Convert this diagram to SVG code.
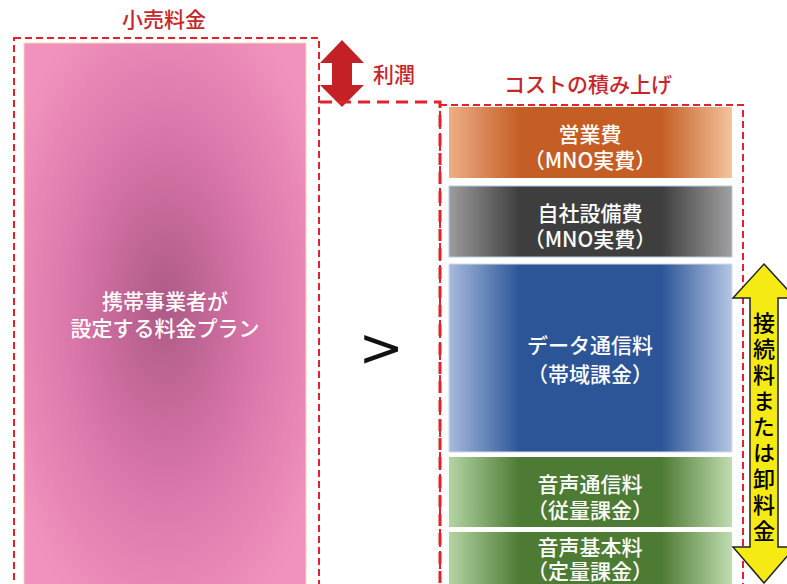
<svg xmlns="http://www.w3.org/2000/svg" width="787" height="584" viewBox="0 0 787 584">
<style>
.lbl{font-family:"Noto Sans CJK JP","Liberation Sans",sans-serif;font-weight:500;fill:#c8262c;font-size:21px;text-anchor:middle}
.wt{font-family:"Noto Sans CJK JP","Liberation Sans",sans-serif;font-weight:500;fill:#ffffff;font-size:21px;text-anchor:middle}
.vt{font-family:"Noto Sans CJK JP","Liberation Sans",sans-serif;font-weight:500;fill:#000;font-size:22px}
.dash{fill:none;stroke:#e0222b;stroke-width:2;stroke-dasharray:7,4}
</style>
<defs>
<radialGradient id="gp" cx="0.5" cy="0.5" r="0.62" fx="0.5" fy="0.48">
<stop offset="0" stop-color="#ad5a86"/>
<stop offset="0.55" stop-color="#dc77ab"/>
<stop offset="1" stop-color="#f192bd"/>
</radialGradient>
<linearGradient id="go" x1="0" x2="1" y1="0" y2="0">
<stop offset="0" stop-color="#eeae86"/><stop offset="0.25" stop-color="#c55e25"/><stop offset="0.75" stop-color="#c55e25"/><stop offset="1" stop-color="#f5c39d"/>
</linearGradient>
<linearGradient id="gg" x1="0" x2="1" y1="0" y2="0">
<stop offset="0" stop-color="#9c9c9c"/><stop offset="0.25" stop-color="#3e3e3e"/><stop offset="0.75" stop-color="#3e3e3e"/><stop offset="1" stop-color="#a0a0a0"/>
</linearGradient>
<linearGradient id="gb" x1="0" x2="1" y1="0" y2="0">
<stop offset="0" stop-color="#a6badc"/><stop offset="0.25" stop-color="#2c5597"/><stop offset="0.75" stop-color="#2c5597"/><stop offset="1" stop-color="#b4c6e4"/>
</linearGradient>
<linearGradient id="ggr" x1="0" x2="1" y1="0" y2="0">
<stop offset="0" stop-color="#b4d4a4"/><stop offset="0.25" stop-color="#4d7b34"/><stop offset="0.75" stop-color="#4d7b34"/><stop offset="1" stop-color="#c0dcb0"/>
</linearGradient>
</defs>
<rect width="787" height="584" fill="#fff"/>

<g id="retail">
<text class="lbl" x="164" y="27">小売料金</text>
<rect class="dash" x="14" y="38" width="305" height="560"/>
<rect x="24" y="43" width="282" height="545" fill="url(#gp)" stroke="#f7d7b0" stroke-width="1"/>
<text class="wt"><tspan x="165" y="309">携帯事業者が</tspan><tspan x="165" y="336">設定する料金プラン</tspan></text>
</g>

<g id="profit">
<polygon points="342,40 364,63 352,63 352,85 364,85 342,107 320,85 332,85 332,63 320,63" fill="#c42127"/>
<text class="lbl" x="394" y="82" font-size="20">利潤</text>
</g>

<g id="gt">
<text x="381" y="366" font-family="DejaVu Sans,sans-serif" font-size="54" text-anchor="middle" fill="#111">&gt;</text>
</g>

<g id="connectors">
<path d="M320,102 H440 V590" fill="none" stroke="#e0222b" stroke-width="3" stroke-dasharray="12,7"/>
</g>

<g id="cost">
<text class="lbl" x="588" y="92">コストの積み上げ</text>
<rect class="dash" x="440" y="105" width="303" height="490"/>
</g>

<g id="sales">
<rect x="449" y="107" width="283" height="71" fill="url(#go)"/>
<text class="wt"><tspan x="590" y="142">営業費</tspan><tspan x="590" y="168">（MNO実費）</tspan></text>
</g>
<g id="facility">
<rect x="449" y="186" width="283" height="71" fill="url(#gg)" stroke="#b7c9e0" stroke-width="1"/>
<text class="wt"><tspan x="590" y="221">自社設備費</tspan><tspan x="590" y="247">（MNO実費）</tspan></text>
</g>
<g id="data">
<rect x="449" y="264" width="283" height="188" fill="url(#gb)" stroke="#d0dcec" stroke-width="1"/>
<text class="wt"><tspan x="590" y="353">データ通信料</tspan><tspan x="590" y="382">（帯域課金）</tspan></text>
</g>
<g id="voice">
<rect x="449" y="457" width="283" height="70" fill="url(#ggr)"/>
<text class="wt"><tspan x="590" y="492">音声通信料</tspan><tspan x="590" y="518">（従量課金）</tspan></text>
</g>
<g id="basic">
<rect x="449" y="532" width="283" height="60" fill="url(#ggr)"/>
<text class="wt"><tspan x="590" y="555">音声基本料</tspan><tspan x="590" y="579">（定量課金）</tspan></text>
</g>

<g id="interconnect">
<polygon points="764,264 795,298 778,298 778,547 795,547 764,583 733,547 750,547 750,298 733,298" fill="#f5ea14" stroke="#222" stroke-width="1.5"/>
<text class="vt" x="764" y="312" writing-mode="vertical-rl" letter-spacing="4">接続料または卸料金</text>
</g>
</svg>
